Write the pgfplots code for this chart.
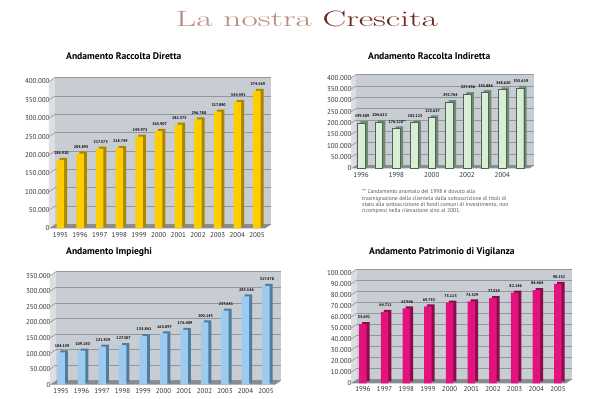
\documentclass[border=0pt]{standalone}
\usepackage{fontspec}
\setsansfont{PT Sans}
\usepackage{pgfplots}
\pgfplotsset{compat=1.18}
\definecolor{wall}{HTML}{C8CCD3}
\definecolor{sidewall}{HTML}{DCDEE2}
\definecolor{floorc}{HTML}{8A8B8E}
\definecolor{gridc}{HTML}{92969D}
\definecolor{goldF}{HTML}{FFCC00}
\definecolor{goldS}{HTML}{A98600}
\definecolor{greenF}{HTML}{D8EFD5}
\definecolor{greenS}{HTML}{6E8C72}
\definecolor{blueF}{HTML}{9DCBF0}
\definecolor{blueS}{HTML}{4E7D9F}
\definecolor{magF}{HTML}{E4127D}
\definecolor{magS}{HTML}{8C0B4B}
\definecolor{titleA}{HTML}{B98C80}
\definecolor{titleB}{HTML}{6B2A1C}
\definecolor{notec}{HTML}{555555}
\pgfplotsset{
  chart3d/.style 2 args={
    scale only axis, clip=false, anchor=south west,
    ymin=0,
    axis line style={draw=none},
    major tick length=0pt,
    ymajorgrids,
    major grid style={gridc, line width=0.6pt, xshift=#1, yshift=#2},
    axis background/.style={fill=wall, xshift=#1, yshift=#2},
    tick label style={font=\sffamily\fontsize{7}{8}\selectfont, text=black!80},
    /pgf/number format/assume math mode=true,
    scaled y ticks=false,
    yticklabel style={/pgf/number format/fixed, /pgf/number format/1000 sep={.}, xshift=4pt},
    xticklabel style={/pgf/number format/1000 sep={}},
    execute at begin axis={
      \fill[sidewall] (rel axis cs:0,0) -- (rel axis cs:0,1) -- ([shift={(#1,#2)}]rel axis cs:0,1) -- ([shift={(#1,#2)}]rel axis cs:0,0) -- cycle;
      \fill[floorc] (rel axis cs:0,0) -- (rel axis cs:1,0) -- ([shift={(#1,#2)}]rel axis cs:1,0) -- ([shift={(#1,#2)}]rel axis cs:0,0) -- cycle;
    },
  },
  back/.style={ybar, bar width=7.5pt, bar shift=0pt, draw=none, fill=#1, xshift=3pt, yshift=2pt},
  front/.style={ybar, bar width=7.5pt, bar shift=0pt, draw=none, fill=#1,
    nodes near coords, point meta=explicit symbolic,
    every node near coord/.append style={font=\sffamily\bfseries\fontsize{4}{4.5}\selectfont, text=black, yshift=4.5pt, xshift=1pt, inner sep=0.5pt}},
}
\begin{document}
\begin{tikzpicture}
\fill[white] (0pt,0pt) rectangle (600pt,399pt);
\path[use as bounding box] (0pt,0pt) rectangle (600pt,399pt);
% main title
\node[anchor=base, inner sep=0pt] at (307pt,372.3pt)
  {\resizebox{262pt}{15.5pt}{\fontsize{22}{24}\selectfont\addfontfeatures{LetterSpace=5}\textcolor{titleA}{La nostra} \textcolor{titleB}{Crescita}}};
% chart titles
\node[anchor=west, font=\sffamily\bfseries\fontsize{9.6}{11}\selectfont, inner sep=0pt] at (66pt,343pt) {Andamento Raccolta Diretta};
\node[anchor=west, font=\sffamily\bfseries\fontsize{9.6}{11}\selectfont, inner sep=0pt] at (368pt,343pt) {Andamento Raccolta Indiretta};
\node[anchor=west, font=\sffamily\bfseries\fontsize{9.6}{11}\selectfont, inner sep=0pt] at (66pt,147pt) {Andamento Impieghi};
\node[anchor=west, font=\sffamily\bfseries\fontsize{9.6}{11}\selectfont, inner sep=0pt] at (369pt,147pt) {Andamento Patrimonio di Vigilanza};
% footnote
\node[anchor=north west, align=left, inner sep=0pt, text=notec, font=\sffamily\fontsize{5.6}{6.3}\selectfont] at (362pt,209.5pt)
  {** L'andamento anomalo del 1998 è dovuto alla\\
   trasmigrazione della clientela dalla sottoscrizione di titoli di\\
   stato alla sottoscrizione di fondi comuni di investimento, non\\
   ricompresi nella rilevazione sino al 2001.};

% ---- Raccolta Diretta
\begin{axis}[chart3d={6pt}{4pt}, at={(55pt,174.5pt)}, width=216pt, height=147pt,
  xmin=1994.42, xmax=2005.41, ymax=400000,
  ytick={0,50000,100000,150000,200000,250000,300000,350000,400000},
  xtick={1995,1996,...,2005}]
\pgfplotsinvokeforeach{50000,100000,150000,200000,250000,300000,350000,400000}{\draw[gridc, line width=0.6pt] (axis cs:1994.42,#1) -- ([shift={(6pt,4pt)}]axis cs:1994.42,#1);}
\addplot[back=goldS] coordinates {(1995,186910) (1996,203895) (1997,217573) (1998,218749) (1999,249972) (2000,265907) (2001,282375) (2002,296780) (2003,317890) (2004,344591) (2005,374569)};
\addplot[front=goldF] coordinates {(1995,186910) [186.910] (1996,203895) [203.895] (1997,217573) [217.573] (1998,218749) [218.749] (1999,249972) [249.972] (2000,265907) [265.907] (2001,282375) [282.375] (2002,296780) [296.780] (2003,317890) [317.890] (2004,344591) [344.591] (2005,374569) [374.569]};
\end{axis}

% ---- Raccolta Indiretta
\begin{axis}[chart3d={5pt}{3pt}, at={(356pt,233.5pt)}, width=178pt, height=90.8pt,
  xmin=1995.43, xmax=2005.51, ymax=400000,
  ytick={0,50000,100000,150000,200000,250000,300000,350000,400000},
  xtick={1996,1998,...,2004}]
\pgfplotsinvokeforeach{50000,100000,150000,200000,250000,300000,350000,400000}{\draw[gridc, line width=0.6pt] (axis cs:1995.43,#1) -- ([shift={(5pt,3pt)}]axis cs:1995.43,#1);}
\addplot[back=greenS] coordinates {(1996,199589) (1997,204622) (1998,176220) (1999,203123) (2000,225637) (2001,292764) (2002,327436) (2003,335884) (2004,348620) (2005,355619)};
\addplot[front=greenF, draw=greenS!70!black, line width=0.3pt] coordinates {(1996,199589) [199.589] (1997,204622) [204.622] (1998,176220) [176.220**] (1999,203123) [203.123] (2000,225637) [225.637] (2001,292764) [292.764] (2002,327436) [327.436] (2003,335884) [335.884] (2004,348620) [348.620] (2005,355619) [355.619]};
\end{axis}

% ---- Impieghi
\begin{axis}[chart3d={6pt}{4pt}, at={(56pt,18.3pt)}, width=225pt, height=109pt,
  xmin=1994.46, xmax=2005.44, ymax=350000,
  ytick={0,50000,100000,150000,200000,250000,300000,350000},
  xtick={1995,1996,...,2005}]
\pgfplotsinvokeforeach{50000,100000,150000,200000,250000,300000,350000}{\draw[gridc, line width=0.6pt] (axis cs:1994.46,#1) -- ([shift={(6pt,4pt)}]axis cs:1994.46,#1);}
\addplot[back=blueS] coordinates {(1995,104159) (1996,109150) (1997,121919) (1998,127307) (1999,155841) (2000,165097) (2001,176409) (2002,200143) (2003,237651) (2004,283546) (2005,317478)};
\addplot[front=blueF] coordinates {(1995,104159) [104.159] (1996,109150) [109.150] (1997,121919) [121.919] (1998,127307) [127.307] (1999,155841) [155.841] (2000,165097) [165.097] (2001,176409) [176.409] (2002,200143) [200.143] (2003,237651) [237.651] (2004,283546) [283.546] (2005,317478) [317.478]};
\end{axis}

% ---- Patrimonio di Vigilanza
\begin{axis}[chart3d={6pt}{4pt}, at={(357pt,19.7pt)}, width=215pt, height=110.3pt,
  xmin=1995.45, xmax=2005.37, ymax=100000,
  ytick={0,10000,20000,30000,40000,50000,60000,70000,80000,90000,100000},
  xtick={1996,1997,...,2005}]
\pgfplotsinvokeforeach{10000,20000,30000,40000,50000,60000,70000,80000,90000,100000}{\draw[gridc, line width=0.6pt] (axis cs:1995.45,#1) -- ([shift={(6pt,4pt)}]axis cs:1995.45,#1);}
\addplot[back=magS] coordinates {(1996,53691) (1997,64711) (1998,67946) (1999,69753) (2000,73113) (2001,74329) (2002,77319) (2003,82146) (2004,84464) (2005,90152)};
\addplot[front=magF] coordinates {(1996,53691) [53.691] (1997,64711) [64.711] (1998,67946) [67.946] (1999,69753) [69.753] (2000,73113) [73.113] (2001,74329) [74.329] (2002,77319) [77.319] (2003,82146) [82.146] (2004,84464) [84.464] (2005,90152) [90.152]};
\end{axis}
\end{tikzpicture}
\end{document}
